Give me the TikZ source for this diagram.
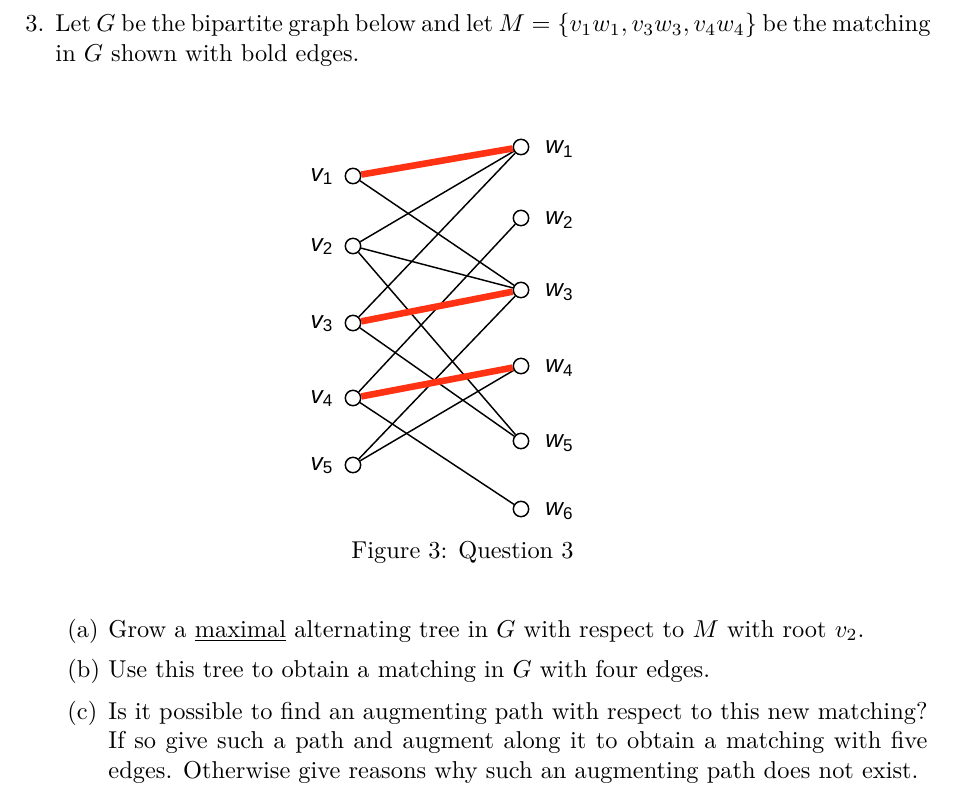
\documentclass[tikz,border=0pt]{standalone}
\usepackage{fontspec}
\newfontfamily\lsans{Liberation Sans}
\usepackage{tikz}
\definecolor{matchred}{RGB}{255,51,20}

\begin{document}
\begin{tikzpicture}[x=0.41pt,y=-0.41pt,
	vert/.style={circle,draw,fill=white,inner sep=0pt,minimum size=6.3pt,line width=0.6pt},
	lab/.style={inner sep=0pt,font=\lsans\fontsize{10}{12}\selectfont\itshape},
	txt/.style={inner sep=0pt,anchor=base west},
	edge/.style={line width=0.6pt},
	matched/.style={line width=2.7pt,matchred}]
				\useasboundingbox (0,0) rectangle (960,792);
				
				\node[txt] (num) at (25,31.7) {3.};
				\node[txt] (l1) at (55,31.7) {\makebox[357.5pt][s]{Let $G$ be the bipartite graph below and let $M=\{v_1w_1,v_3w_3,v_4w_4\}$ be the matching}};
				\node[txt] (l2) at (55,61.7) {in $G$ shown with bold edges.};
				
				\node[vert] (v1) at (353,176) {};
				\node[vert] (v2) at (353,246) {};
				\node[vert] (v3) at (353,323) {};
				\node[vert] (v4) at (353,398) {};
				\node[vert] (v5) at (353,465) {};
				
				\node[vert] (w1) at (521,147) {};
				\node[vert] (w2) at (521,218) {};
				\node[vert] (w3) at (521,290) {};
				\node[vert] (w4) at (521,366) {};
				\node[vert] (w5) at (521,441) {};
				\node[vert] (w6) at (521,509) {};
				
				\foreach \i in {1,...,5}
					\node[lab,anchor=base east] (lv\i) at ([shift={(-19,5)}]v\i) {v\textsubscript{\upshape\i}};
				\foreach \i in {1,...,6}
					\node[lab,anchor=base west] (lw\i) at ([shift={(24,6.5)}]w\i) {w\textsubscript{\upshape\i}};
				
				\foreach \a/\b in {v1/w3,v2/w1,v2/w3,v2/w5,v3/w1,v3/w5,v4/w2,v4/w6,v5/w3,v5/w4}
					\draw[edge] (\a) -- (\b);
				\foreach \a/\b in {v1/w1,v3/w3,v4/w4}
					\draw[matched] (\a) -- (\b);
				
				\node[txt] (cap) at (351,558) {Figure 3: Question 3};
				
				\node[txt] (la) at (67,637) {(a)};
				\node[txt] (ta) at (108,637) {Grow a \underline{maximal} alternating tree in $G$ with respect to $M$ with root $v_2$.};
				\node[txt] (lb) at (67,677) {(b)};
				\node[txt] (tb) at (108,677) {Use this tree to obtain a matching in $G$ with four edges.};
				\node[txt] (lc) at (67,719) {(c)};
				\node[txt] (tc1) at (108,719) {\makebox[335.8pt][s]{Is it possible to find an augmenting path with respect to this new matching?}};
				\node[txt] (tc2) at (108,748.5) {\makebox[335.8pt][s]{If so give such a path and augment along it to obtain a matching with five}};
				\node[txt] (tc3) at (108,778) {edges. Otherwise give reasons why such an augmenting path does not exist.};
\end{tikzpicture}
\end{document}
